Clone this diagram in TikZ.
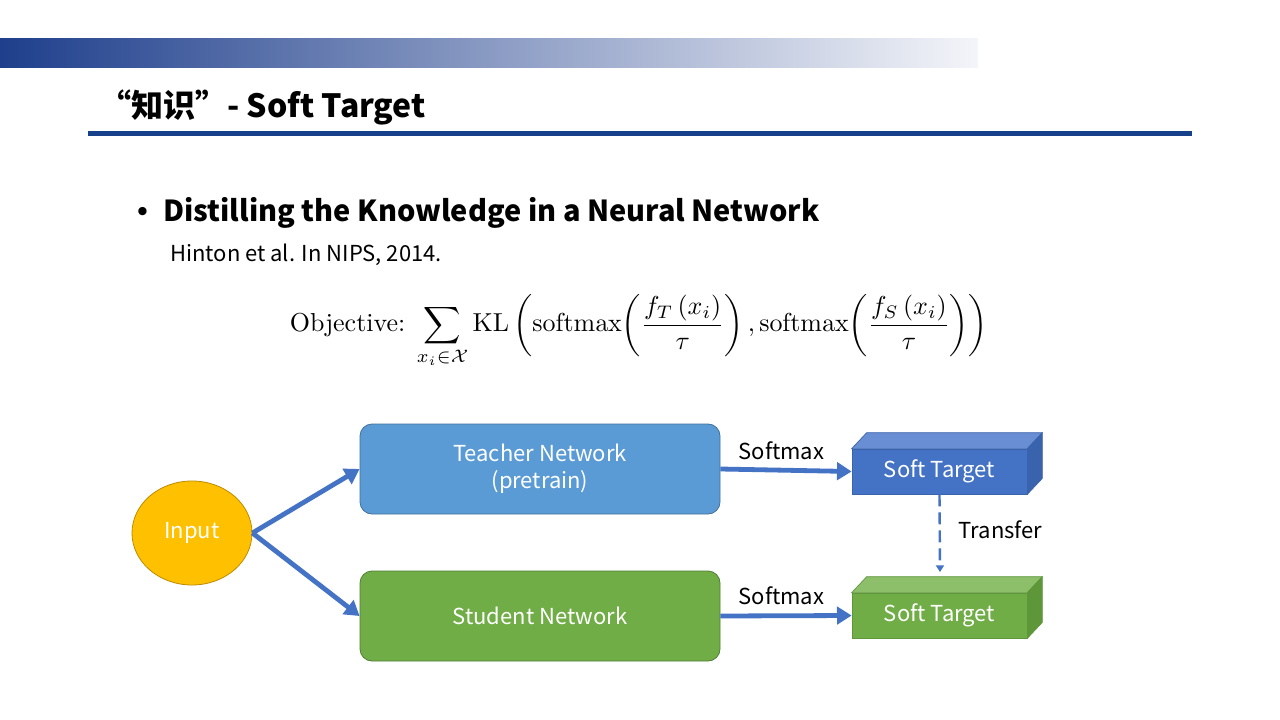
\documentclass[tikz,border=0pt]{standalone}
\usepackage[no-math]{fontspec}
\usepackage{amsmath}
\usepackage{graphicx}
\usetikzlibrary{arrows.meta,shapes.geometric}
\newfontfamily\nsans{Noto Sans CJK SC}
\definecolor{hdrblue}{HTML}{1F3F8C}
\definecolor{hdrlight}{HTML}{F4F5F9}
\definecolor{rulecol}{HTML}{17408A}
\definecolor{arrowblue}{HTML}{4472C4}
\definecolor{teacherfill}{HTML}{5B9BD5}
\definecolor{teacherdraw}{HTML}{41719C}
\definecolor{studentfill}{HTML}{70AD47}
\definecolor{studentdraw}{HTML}{507E32}
\definecolor{inputfill}{HTML}{FFC000}
\definecolor{inputdraw}{HTML}{BC8C00}
\definecolor{bluetop}{HTML}{6A8ED3}
\definecolor{blueside}{HTML}{3A63AE}
\definecolor{greentop}{HTML}{8DBF6B}
\definecolor{greenside}{HTML}{5E973A}
\tikzset{
  netbox/.style={rounded corners=9pt, minimum width=270pt, minimum height=67.5pt,
    text=white, align=center, font=\nsans\fontsize{16.5}{20}\selectfont, line width=0.6pt},
  cubefront/.style={minimum width=131.25pt, minimum height=33.75pt, inner sep=0pt,
    text=white, font=\nsans\fontsize{16.5}{19}\selectfont, line width=0.5pt},
  thickarrow/.style={draw=arrowblue, line width=3.6pt, -{Triangle[length=11pt,width=13pt]}},
  lbl/.style={font=\nsans\fontsize{16.5}{19}\selectfont, text=black},
}
\begin{document}
\begin{tikzpicture}[x=0.75pt,y=-0.75pt]
\useasboundingbox (0,0) rectangle (1280,720);
\fill[white] (0,0) rectangle (1280,720);
% header bar
\shade[left color=hdrblue, right color=hdrlight] (0,39) rectangle (978,68);
\node[anchor=base west, inner sep=0pt, font=\nsans\bfseries\fontsize{24}{28}\selectfont] (title) at (99,118) {“知识”- Soft Target};
\fill[rulecol] (88,131) rectangle (1192,136);
% bullet
\node[anchor=base west, inner sep=0pt, font=\fontsize{28}{30}\selectfont] (bullet) at (129,222) {\textbullet};
\node[anchor=base west, inner sep=0pt, font=\nsans\bfseries\fontsize{21.7}{25}\selectfont] (paper) at (163,222) {Distilling the Knowledge in a Neural Network};
\node[anchor=base west, inner sep=0pt, font=\nsans\fontsize{16.5}{19}\selectfont] (cite) at (170,262) {Hinton et al. In NIPS, 2014.};
% formula
\node[inner sep=0pt] (formula) at (639,331) {\resizebox{523.5pt}{!}{$\displaystyle \text{Objective:}\; \sum_{x_i\in\mathcal{X}} \mathrm{KL}\left(\mathrm{softmax}\!\left(\frac{f_T\,(x_i)}{\tau}\right),\mathrm{softmax}\!\left(\frac{f_S\,(x_i)}{\tau}\right)\right)$}};
% diagram
\node[ellipse, draw=inputdraw, fill=inputfill, minimum width=90pt, minimum height=78pt, inner sep=0pt,
  text=white, font=\nsans\fontsize{16.5}{19}\selectfont, line width=0.6pt] (input) at (192,533) {Input};
\node[netbox, draw=teacherdraw, fill=teacherfill] (teacher) at (540,469) {Teacher Network\\(pretrain)};
\node[netbox, draw=studentdraw, fill=studentfill] (student) at (540,616) {Student Network};
% cubes
\node[cubefront, draw=blueside, fill=arrowblue] (stT) at (939.5,471.5) {Soft Target};
\fill[bluetop, draw=blueside, line width=0.5pt] (stT.north west) -- ([shift={(15,-16)}]stT.north west) -- ([shift={(15,-16)}]stT.north east) -- (stT.north east) -- cycle;
\fill[blueside, draw=blueside, line width=0.5pt] (stT.north east) -- ([shift={(15,-16)}]stT.north east) -- ([shift={(15,-16)}]stT.south east) -- (stT.south east) -- cycle;
\node[cubefront, draw=greenside, fill=studentfill] (stS) at (939.5,615.5) {Soft Target};
\fill[greentop, draw=greenside, line width=0.5pt] (stS.north west) -- ([shift={(15,-16)}]stS.north west) -- ([shift={(15,-16)}]stS.north east) -- (stS.north east) -- cycle;
\fill[greenside, draw=greenside, line width=0.5pt] (stS.north east) -- ([shift={(15,-16)}]stS.north east) -- ([shift={(15,-16)}]stS.south east) -- (stS.south east) -- cycle;
% arrows
\draw[thickarrow] (input.east) -- (teacher.west);
\draw[thickarrow] (input.east) -- (student.west);
\draw[thickarrow] (teacher.east) -- node[lbl, above=3pt, xshift=-3.5pt] (smT) {Softmax} (stT.west);
\draw[thickarrow] (student.east) -- node[lbl, above=3pt, xshift=-3.5pt] (smS) {Softmax} (stS.west);
\coordinate (transEnd) at (940,572);
\draw[draw=arrowblue, line width=1.8pt, dash pattern=on 9pt off 4.5pt, -{Triangle[length=5pt,width=6pt]}] (stT.south) -- node[lbl, right=10pt, yshift=2.5pt] (trans) {Transfer} (transEnd);
\end{tikzpicture}
\end{document}
